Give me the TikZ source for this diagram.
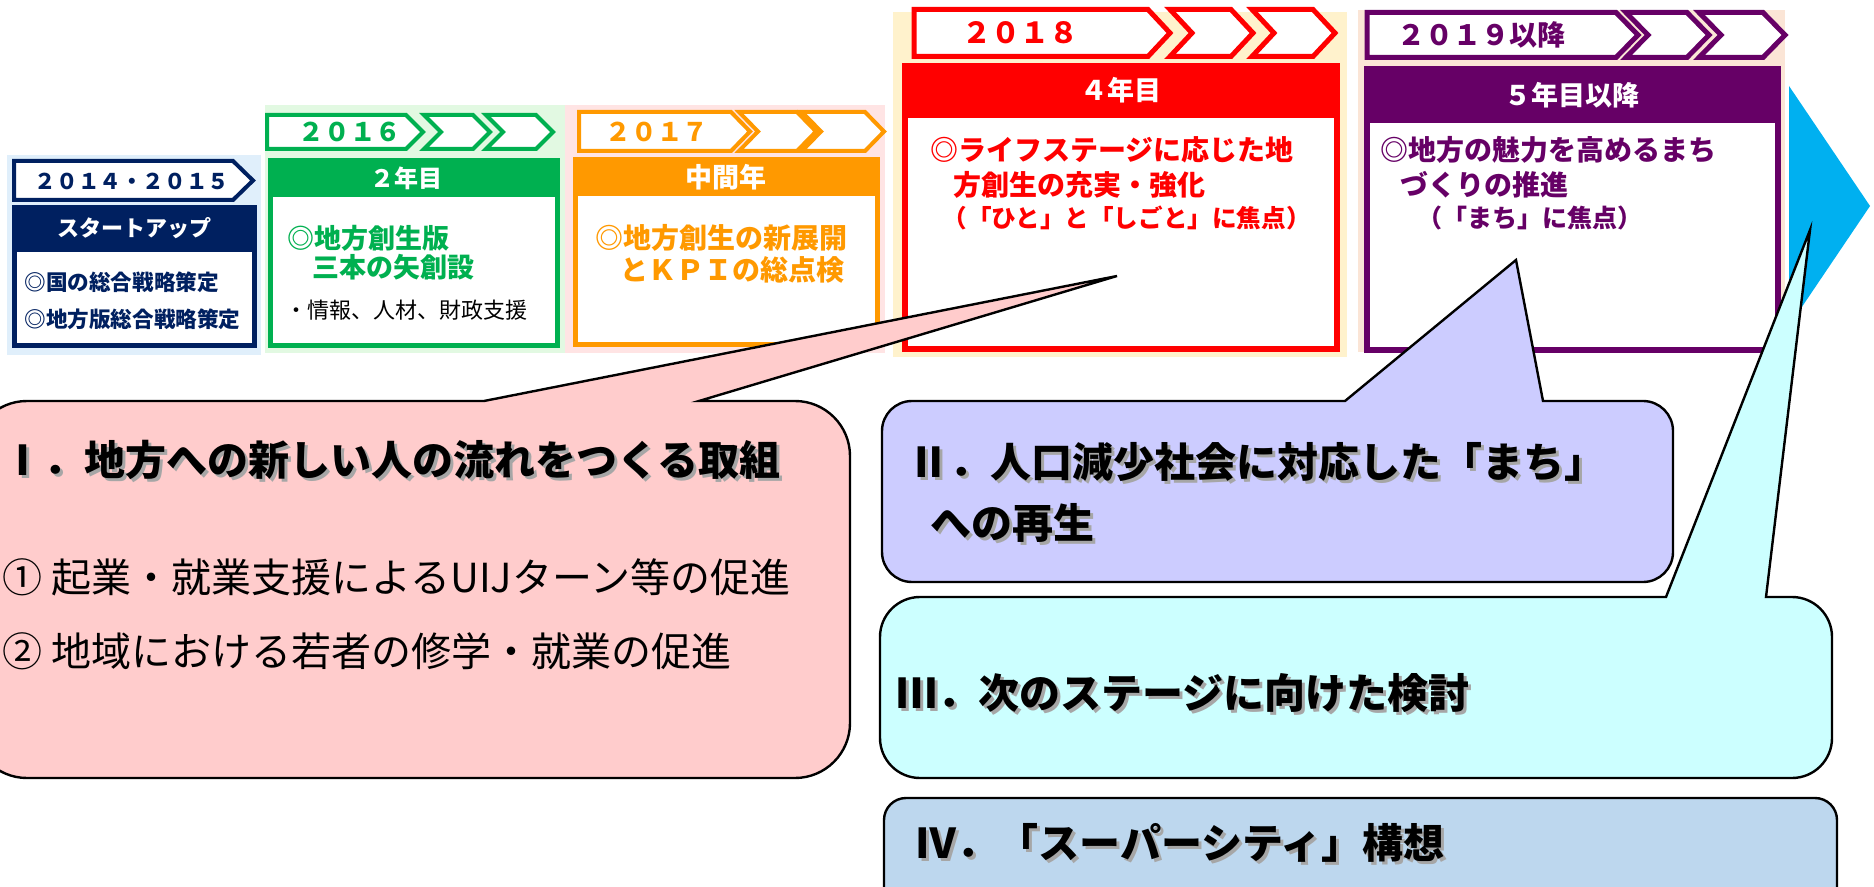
\documentclass[tikz,border=0pt]{standalone}
\usepackage{fontspec}
\setmainfont{Noto Sans CJK JP}
\definecolor{navy}{HTML}{002060}
\definecolor{grn}{HTML}{00B050}
\definecolor{orng}{HTML}{FF9900}
\definecolor{redc}{HTML}{FF0000}
\definecolor{purp}{HTML}{660066}
\definecolor{arrowc}{HTML}{00B0F0}
\definecolor{bgA}{HTML}{E0EFFB}
\definecolor{bgB}{HTML}{E2F9E2}
\definecolor{bgC}{HTML}{FFE4E4}
\definecolor{bgD}{HTML}{FFF2CC}
\definecolor{bgE}{HTML}{FBE5D6}
\definecolor{cI}{HTML}{FFCCCC}
\definecolor{cII}{HTML}{CCCCFF}
\definecolor{cIII}{HTML}{CCFFFF}
\definecolor{cIV}{HTML}{BDD7EE}
\newcommand{\fsz}[1]{\fontsize{#1}{#1}\selectfont}
% pentagon banner: color, x0, x1, ytop, ybot, depth, width
\newcommand{\mypent}[7]{\draw[banner, line width=#7, draw=#1] (#2,#4) -- (#3,#4) -- ({#3+#6},{(#4+#5)/2}) -- (#3,#5) -- (#2,#5) -- cycle;}
\newcommand{\mychev}[7]{\draw[banner, line width=#7, draw=#1] (#2,#4) -- (#3,#4) -- ({#3+#6},{(#4+#5)/2}) -- (#3,#5) -- (#2,#5) -- ({#2+#6},{(#4+#5)/2}) -- cycle;}
\begin{document}
\begin{tikzpicture}[x=0.5pt,y=-0.5pt,
  banner/.style={fill=white, line join=miter},
  ctr/.style={inner sep=0pt, anchor=center},
  lw/.style={inner sep=0pt, anchor=west},
  callout/.style={draw=black, line width=1.2pt, line join=miter},
  shadowtxt/.style={inner sep=0pt, anchor=west, text=black!35}]
\useasboundingbox (0,0) rectangle (1874,887);
\clip (0,0) rectangle (1874,887);
\fill[white] (0,0) rectangle (1874,887);

% column backgrounds
\fill[bgA] (7,155) rectangle (261,355);
\fill[bgB] (265,105) rectangle (565,353);
\fill[bgC] (565,105) rectangle (885,353);
\fill[bgD] (893,12) rectangle (1347,357);
\fill[bgE] (1358,10) rectangle (1785,352);

% main boxes
\fill[navy] (12,205) rectangle (257,348); \fill[white] (17,252) rectangle (252,343);
\fill[grn] (268,158) rectangle (560,348); \fill[white] (273,197) rectangle (555,343);
\fill[orng] (573,157) rectangle (880,347); \fill[white] (578,196) rectangle (875,342);
\fill[redc] (902,63) rectangle (1340,352); \fill[white] (908,118) rectangle (1334,346);
\fill[purp] (1364,66) rectangle (1781,353); \fill[white] (1370,123) rectangle (1775,347);

% banners
\mypent{navy}{14}{233}{161}{200}{20}{2pt}
\mypent{grn}{267}{406}{115}{149}{17}{2pt}
\mychev{grn}{424}{473}{115}{149}{17}{2pt}
\mychev{grn}{486}{536}{115}{149}{17}{2pt}
\mypent{orng}{579}{731}{112}{151}{19}{2pt}
\mychev{orng}{739}{797}{112}{151}{19}{2pt}
\mychev{orng}{802}{865}{112}{151}{19}{2pt}
\mypent{redc}{914}{1148}{9.5}{56.5}{22}{2.5pt}
\mychev{redc}{1170}{1231}{9.5}{56.5}{22}{2.5pt}
\mychev{redc}{1252}{1313}{9.5}{56.5}{22}{2.5pt}
\mypent{purp}{1367}{1616}{12.5}{57.5}{22}{2.5pt}
\mychev{purp}{1626}{1687}{12.5}{57.5}{22}{2.5pt}
\mychev{purp}{1699}{1763}{12.5}{57.5}{22}{2.5pt}

% banner texts
\node[ctr, text=navy, font=\bfseries\fsz{10.8pt}] (y1) at (132,181) {２０１４・２０１５};
\node[ctr, text=grn, font=\bfseries\fsz{12.8pt}] (y2) at (350,132) {２０１６};
\node[ctr, text=orng, font=\bfseries\fsz{12.8pt}] (y3) at (657,132) {２０１７};
\node[ctr, text=redc, font=\bfseries\fsz{14.5pt}] (y4) at (1020,33) {２０１８};
\node[ctr, text=purp, font=\bfseries\fsz{14pt}] (y5) at (1481,35) {２０１９以降};

% header texts
\node[ctr, text=white, font=\bfseries\fsz{11pt}] (h1) at (134,228) {スタートアップ};
\node[ctr, text=white, font=\bfseries\fsz{12pt}] (h2) at (406,178) {２年目};
\node[ctr, text=white, font=\bfseries\fsz{13.5pt}] (h3) at (726,177) {中間年};
\node[ctr, text=white, font=\bfseries\fsz{13.5pt}] (h4) at (1121,90) {４年目};
\node[ctr, text=white, font=\bfseries\fsz{13.5pt}] (h5) at (1572,95) {５年目以降};

% body texts
\node[lw, text=navy, font=\bfseries\fsz{10.8pt}] (b1a) at (24,282) {◎国の総合戦略策定};
\node[lw, text=navy, font=\bfseries\fsz{10.8pt}] (b1b) at (24,319) {◎地方版総合戦略策定};
\node[lw, text=grn, font=\bfseries\fsz{13.5pt}] (b2a) at (287,238) {◎地方創生版};
\node[lw, text=grn, font=\bfseries\fsz{13.5pt}] (b2b) at (312,267) {三本の矢創設};
\node[lw, text=black, font=\fsz{11pt}] (b2c) at (285,310) {・情報、人材、財政支援};
\node[lw, text=orng, font=\bfseries\fsz{14pt}] (b3a) at (595,238) {◎地方創生の新展開};
\node[lw, text=orng, font=\bfseries\fsz{14pt}] (b3b) at (620,270) {とＫＰＩの総点検};
\node[lw, text=redc, font=\bfseries\fsz{14pt}] (b4a) at (930,150) {◎ライフステージに応じた地};
\node[lw, text=redc, font=\bfseries\fsz{14pt}] (b4b) at (953,185) {方創生の充実・強化};
\node[lw, text=redc, font=\bfseries\fsz{12.3pt}] (b4c) at (942,218) {（「ひと」と「しごと」に焦点）};
\node[lw, text=purp, font=\bfseries\fsz{14pt}] (b5a) at (1380,150) {◎地方の魅力を高めるまち};
\node[lw, text=purp, font=\bfseries\fsz{14pt}] (b5b) at (1400,185) {づくりの推進};
\node[lw, text=purp, font=\bfseries\fsz{12.5pt}] (b5c) at (1417,218) {（「まち」に焦点）};

% big arrow
\fill[arrowc] (1789,86) -- (1870,206) -- (1789,326) -- cycle;

% callout IV
\draw[callout, fill=cIV, rounded corners=11pt] (884,798) rectangle (1837,910);
% callout III
\draw[callout, fill=cIII] (1666,597) -- (1810,230) -- (1766,597) -- (1792,597)
  arc[start angle=-90, end angle=0, radius=40] -- (1832,738)
  arc[start angle=0, end angle=90, radius=40] -- (920,778)
  arc[start angle=90, end angle=180, radius=40] -- (880,637)
  arc[start angle=180, end angle=270, radius=40] -- cycle;
% callout II
\draw[callout, fill=cII] (1345,401) -- (1516,260) -- (1543,401) -- (1643,401)
  arc[start angle=-90, end angle=0, radius=30] -- (1673,552)
  arc[start angle=0, end angle=90, radius=30] -- (912,582)
  arc[start angle=90, end angle=180, radius=30] -- (882,431)
  arc[start angle=180, end angle=270, radius=30] -- cycle;
% callout I
\draw[callout, fill=cI] (484,401) -- (1117,276) -- (699,401) -- (795,401)
  arc[start angle=-90, end angle=0, radius=55] -- (850,723)
  arc[start angle=0, end angle=90, radius=55] -- (27,778)
  arc[start angle=90, end angle=180, radius=55] -- (-28,456)
  arc[start angle=180, end angle=270, radius=55] -- cycle;

% callout texts
\node[shadowtxt, font=\bfseries\fsz{20.5pt}] (t1s) at (5,463) {Ⅰ．地方への新しい人の流れをつくる取組};
\node[lw, font=\bfseries\fsz{20.5pt}] (t1) at (2,460) {Ⅰ．地方への新しい人の流れをつくる取組};
\node[lw, font=\fsz{20pt}] (t1a) at (2,577) {① 起業・就業支援によるUIJターン等の促進};
\node[lw, font=\fsz{20pt}] (t1b) at (2,651) {② 地域における若者の修学・就業の促進};

\node[shadowtxt, font=\bfseries\fsz{20.5pt}] (t2s) at (911,465) {Ⅱ．人口減少社会に対応した「まち」};
\node[lw, font=\bfseries\fsz{20.5pt}] (t2) at (908,462) {Ⅱ．人口減少社会に対応した「まち」};
\node[shadowtxt, font=\bfseries\fsz{20.5pt}] (t2bs) at (933,526) {への再生};
\node[lw, font=\bfseries\fsz{20.5pt}] (t2b) at (930,523) {への再生};

\node[shadowtxt, font=\bfseries\fsz{20.5pt}] (t3s) at (899,696) {Ⅲ．次のステージに向けた検討};
\node[lw, font=\bfseries\fsz{20.5pt}] (t3) at (896,693) {Ⅲ．次のステージに向けた検討};

\node[shadowtxt, font=\bfseries\fsz{20.5pt}] (t4s) at (918,846) {Ⅳ．「スーパーシティ」構想};
\node[lw, font=\bfseries\fsz{20.5pt}] (t4) at (915,843) {Ⅳ．「スーパーシティ」構想};
\end{tikzpicture}
\end{document}
